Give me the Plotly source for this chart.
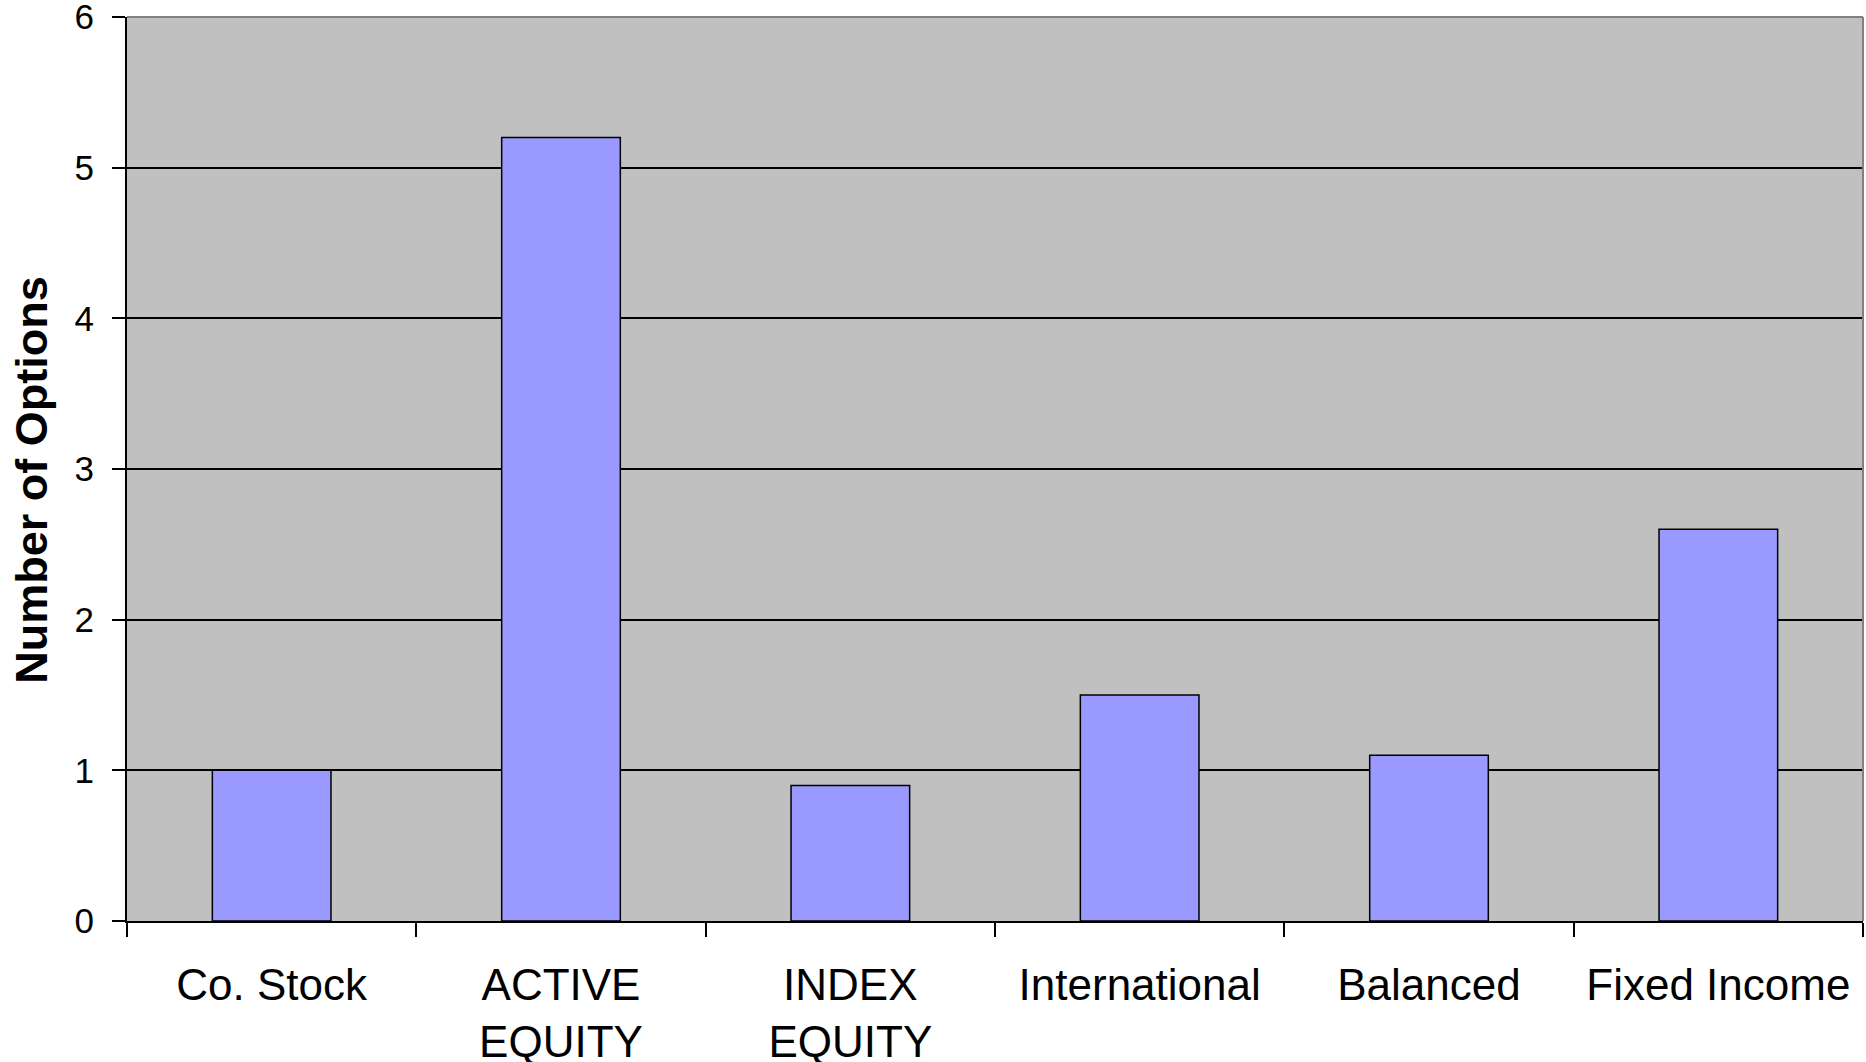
import plotly.graph_objects as go

categories = ["Co. Stock", "ACTIVE<br>EQUITY", "INDEX<br>EQUITY", "International", "Balanced", "Fixed Income"]
values = [1.0, 5.2, 0.9, 1.5, 1.1, 2.6]
y_ticks = [0, 1, 2, 3, 4, 5, 6]

FONT = "Liberation Sans, Arial, sans-serif"

fig = go.Figure()
fig.add_trace(go.Bar(
    x=categories, y=values,
    marker=dict(color="#9999FF", line=dict(color="black", width=1.5)),
    width=0.41,
))

fig.update_layout(
    width=1866, height=1062,
    margin=dict(l=127, r=3, t=17, b=141, autoexpand=False),
    paper_bgcolor="white", plot_bgcolor="#C0C0C0",
    showlegend=False,
    font=dict(family=FONT, color="black"),
    xaxis=dict(
        type="category", tickson="boundaries", ticks="outside", ticklen=14,
        tickwidth=2, tickcolor="black", showline=True, linecolor="black", linewidth=2,
        showgrid=False, tickfont=dict(size=44, family=FONT, color="black"),
        ticklabelstandoff=24, automargin=False, ticklabeloverflow="allow",
    ),
    yaxis=dict(
        range=[0, 6], tickvals=y_ticks, ticks="outside", ticklen=13, tickwidth=2,
        tickcolor="black", showline=True, linecolor="black", linewidth=2,
        showgrid=True, gridcolor="black", gridwidth=2, zeroline=False,
        tickfont=dict(size=35, family=FONT, color="black"),
        ticklabelstandoff=11, automargin=False, ticklabeloverflow="allow",
    ),
    annotations=[dict(
        text="<b>Number of Options</b>", xref="paper", yref="paper",
        x=-0.0547, y=0.487, xanchor="center", yanchor="middle", textangle=-90,
        showarrow=False, font=dict(size=45, family=FONT, color="black"),
    )],
    shapes=[
        dict(type="line", xref="paper", yref="paper", x0=0, x1=1, y0=1, y1=1,
             line=dict(color="#808080", width=2), layer="above"),
        dict(type="line", xref="paper", yref="paper", x0=1, x1=1, y0=0, y1=1,
             line=dict(color="#808080", width=2), layer="above"),
    ],
)

fig.write_html("out.html")
